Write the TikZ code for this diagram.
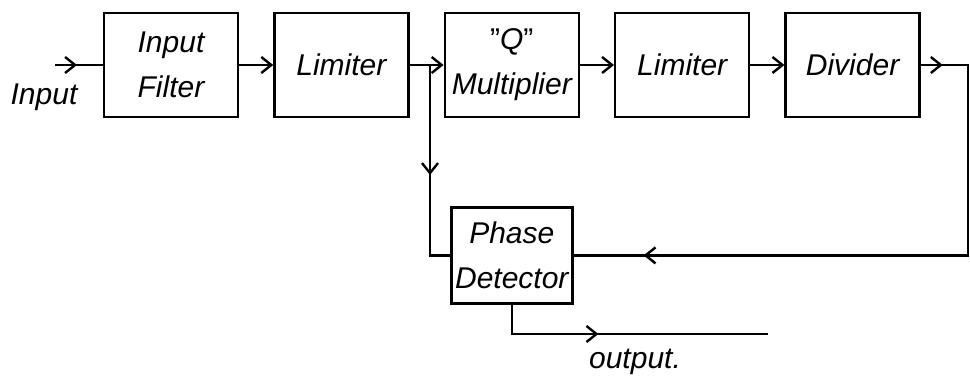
\documentclass[tikz,border=0pt]{standalone}
\usepackage{fontspec}
\setmainfont{Liberation Sans}
\usetikzlibrary{positioning,arrows.meta,decorations.markings}

\begin{document}
\begin{tikzpicture}[
  x=1pt, y=-1pt,
  node distance=34pt and 34pt,
  line width=2.4pt,
  blk/.style={draw, align=center, minimum width=134pt, minimum height=104pt,
              inner sep=2pt, font=\fontsize{30}{45}\selectfont\itshape},
  lbl/.style={font=\fontsize{30}{36}\selectfont\itshape},
  tip/.style={-{Straight Barb[length=10pt,width=16pt]}},
  midarr/.style={postaction={decorate,decoration={markings,
      mark=at position #1 with {\arrow{Straight Barb[length=10pt,width=16pt]}}}}}
]
  \useasboundingbox (0,0) rectangle (970,382);

  % top row of stages
  \node[blk] (filt) at (171,65) {Input\\Filter};
  \node[blk, right=of filt] (lim1) {Limiter};
  \node[blk, right=of lim1] (qmul) {{\upshape\symbol{34}}Q{\upshape\symbol{34}}\\Multiplier};
  \node[blk, right=of qmul] (lim2) {Limiter};
  \node[blk, right=of lim2] (divd) {Divider};

  \node[blk, below=88pt of qmul, minimum width=121pt, minimum height=96pt] (phdet) {Phase\\Detector};

  \coordinate (in) at (55,65);
  \coordinate (br) at (430,65);
  \coordinate (rt) at (968,65);
  \coordinate (outend) at (768,334);

  \node[lbl] (inlbl) at (44,97) {Input};
  \node[lbl] (outlbl) at (635,362) {output.};

  \draw[midarr=22pt] (in) -- (filt);
  \foreach \a/\b in {filt/lim1, qmul/lim2, lim2/divd}
    \draw[tip] (\a) -- (\b);
  \draw (lim1) -- (br);
  \draw[tip] (br) -- (qmul);
  \draw[midarr=110pt] (br) |- (phdet.west);
  \draw[midarr=22pt, midarr=562pt] (divd) -- (rt) |- (phdet.east);
  \draw[midarr=116pt] (phdet) |- (outend);
\end{tikzpicture}
\end{document}
